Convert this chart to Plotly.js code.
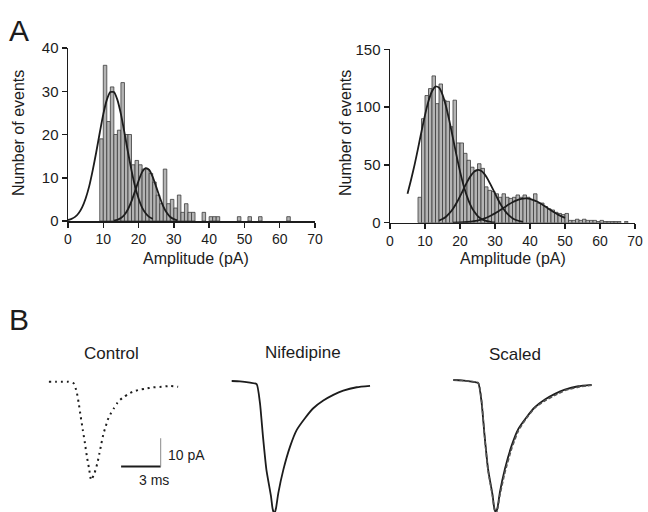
<!DOCTYPE html>
<html><head><meta charset="utf-8">
<script src="https://cdn.plot.ly/plotly-3.0.1.min.js"></script>
<style>html,body{margin:0;padding:0;background:#fff}#chart{width:648px;height:512px}</style>
</head><body><div id="chart"></div>
<script>
// ---------- Panel A: amplitude histograms (1 pA bins, value = bin start) ----------
const leftBinStart = [9,10,11,12,13,14,15,16,17,18,19,20,21,22,23,24,25,26,27,28,29,30,31,32,33,34,35,38,40,41,42,48,51,54,62];
const leftCounts   = [19,36,23,31,20,21,32,20,20,13,14,13,12,12,11,9,6,4,12,4,5,3,6,2,4,2,2,2,1,1,1,1,1,1,1];

const rightBinStart = [8,9,10,11,12,13,14,15,16,17,18,19,20,21,22,23,24,25,26,27,28,29,30,31,32,33,34,35,36,37,38,39,40,41,42,43,44,45,46,47,48,49,50,51,52,53,54,55,56,57,58,59,60,61,62,63,64,65,67];
const rightCounts   = [22,90,110,116,127,103,120,106,105,83,106,69,69,60,54,48,45,51,47,31,28,27,25,22,25,22,21,22,24,22,24,22,20,25,17,17,14,12,11,9,8,7,8,2,2,3,2,3,2,2,2,1,2,1,1,1,1,1,1];

// fitted curves
const leftFit1X = [0,1,2,3,4,5,6,7,8,9,10,11,12,13,14,15,16,17,18,19,20,21,22,23,24];
const leftFit1Y = [0.23,0.48,0.95,1.79,3.14,5.2,8.0,11.7,15.9,20.4,24.7,28.0,29.8,29.8,28.0,24.7,20.4,15.9,11.7,8.0,5.2,3.1,1.8,0.95,0.5];
const leftFit2X = [13,14,15,16,17,18,19,20,21,22,23,24,25,26,27,28,29,30,31];
const leftFit2Y = [0.11,0.29,0.68,1.44,2.72,4.58,6.9,9.3,11.3,12.2,11.8,10.2,7.9,5.5,3.4,1.9,0.93,0.42,0.16];

const rightFit1X = [5,6,7,8,9,10,11,12,13,14,15,16,17,18,19,20,21,22,23,24,25,26,27,28,29,30];
const rightFit1Y = [25,37.0,49.8,64.1,78.9,93.1,105.2,113.7,117.8,116.8,110.8,100.7,87.6,73.0,58.2,44.4,32.5,22.8,15.2,9.8,6.0,3.5,2.0,1.1,0.55,0.27];
const rightFit2X = [14,15,16,17,18,19,20,21,22,23,24,25,26,27,28,29,30,31,32,33,34,35,36,37,38];
const rightFit2Y = [1.8,3.2,5.2,8.2,12.1,17.0,22.8,29.0,35.1,40.3,44.0,45.6,44.9,42.0,37.3,31.4,25.3,19.2,13.9,9.6,6.3,3.9,2.3,1.3,0.7];
const rightFit3X = [18,20,22,24,26,27,28,29,30,31,32,33,34,35,36,37,38,39,40,41,42,43,44,45,46,47,48,49,50];
const rightFit3Y = [0.1,0.25,0.62,1.37,2.73,3.71,4.93,6.39,8.05,9.91,11.9,13.9,15.9,17.7,19.1,20.2,20.9,21.0,20.6,19.6,18.3,16.6,14.7,12.7,10.7,8.8,7.0,5.5,4.2];

const histXTicks = [0,10,20,30,40,50,60,70];
const leftYTicks = [0,10,20,30,40];
const rightYTicks = [0,50,100,150];

// ---------- Panel B: averaged currents (time in ms, current in pA) ----------
const controlT = [0,0.53,1.0,1.47,1.88,2.1,2.26,2.41,2.57,2.73,2.88,3.04,3.2,3.45,3.67,3.83,3.98,4.14,4.3,4.45,4.7,4.92,5.17,5.39,5.7,6.02,6.33,6.8,7.27,7.9,8.53,9.16,9.79];
const controlI = [0,0,0,0,-0.6,-3.5,-7.6,-12.3,-17.0,-21.7,-26.4,-30.5,-34.6,-32.3,-28.7,-25.2,-21.7,-18.2,-15.8,-13.5,-11.1,-9.4,-7.6,-6.4,-5.3,-4.3,-3.6,-2.9,-2.5,-2.0,-1.8,-1.5,-1.8];

const nifT = [0,0.63,1.39,1.89,2.14,2.37,2.63,2.98,3.1,3.23,3.36,3.53,3.91,4.42,4.92,5.55,6.18,6.94,7.7,8.45,9.47,10.48];
const nifI = [0,-0.1,-0.6,-1.1,-7.7,-19.6,-31.3,-40.7,-45.0,-46.8,-44.7,-39.5,-31.3,-23.1,-17.3,-13.1,-9.6,-6.9,-4.9,-3.4,-2.2,-1.7];

const scaledCtrlT = [0,0.63,1.39,1.89,2.14,2.37,2.63,2.98,3.1,3.23,3.36,3.53,3.91,4.42,4.92,5.55,6.18,6.94,7.7,8.45,9.47,10.48];
const scaledCtrlI = [0,-0.2,-0.5,-1.0,-7.2,-19.8,-31.8,-41.2,-45.4,-47.0,-45.3,-40.6,-32.6,-24.2,-18.0,-13.4,-9.8,-7.3,-5.4,-3.7,-2.5,-1.8];

const scaleBarMs = 3, scaleBarPA = 10;

// ---------- layout helpers ----------
const W = 648, H = 512;
const fx = p => p / W, fy = p => 1 - p / H;
const FONT = 'Liberation Sans, Arial, Helvetica, sans-serif';
const INK = '#1c1c1c';

function histX(p0, p1, anchor) {
  return {domain: [fx(p0), fx(p1)], range: [0, 70], anchor: anchor, tickvals: histXTicks,
    ticks: 'outside', ticklen: 5, tickwidth: 1.5, tickcolor: INK, showline: true, linecolor: INK, linewidth: 1.5,
    showgrid: false, zeroline: false, tickfont: {family: FONT, size: 14, color: INK}, fixedrange: true};
}
function histY(p0, p1, max, ticks, anchor) {
  return {domain: [fy(p0), fy(p1)], range: [0, max], anchor: anchor, tickvals: ticks,
    ticks: 'outside', ticklen: 5, tickwidth: 1.5, tickcolor: INK, showline: true, linecolor: INK, linewidth: 1.5,
    showgrid: false, zeroline: false, tickfont: {family: FONT, size: 15, color: INK}, fixedrange: true};
}
// trace panels: pixel scale
const pxPerMs = 13.2, pxPerPA = 2.84;
const bTop = 360, bBot = 512;
function traceX(p0, p1, originPx) {
  return {domain: [fx(p0), fx(p1)], range: [(p0 - originPx) / pxPerMs, (p1 - originPx) / pxPerMs], visible: false, fixedrange: true};
}
function traceY(basePx, anchor) {
  return {domain: [fy(bBot), fy(bTop)], range: [-(bBot - basePx) / pxPerPA, (basePx - bTop) / pxPerPA], visible: false, anchor: anchor, fixedrange: true};
}

const barStyle = {color: '#b4b4b4', line: {color: '#3c3c3c', width: 0.8}};
const fitLine = {color: INK, width: 1.8, shape: 'spline', smoothing: 0.6};

const sbT0 = 5.47, sbI0 = -29.9;

const data = [
  {type: 'bar', x: leftBinStart, y: leftCounts, width: 1, offset: 0, marker: barStyle, xaxis: 'x', yaxis: 'y'},
  {type: 'scatter', mode: 'lines', x: leftFit1X, y: leftFit1Y, line: fitLine, xaxis: 'x', yaxis: 'y'},
  {type: 'scatter', mode: 'lines', x: leftFit2X, y: leftFit2Y, line: fitLine, xaxis: 'x', yaxis: 'y'},
  {type: 'bar', x: rightBinStart, y: rightCounts, width: 1, offset: 0, marker: barStyle, xaxis: 'x2', yaxis: 'y2'},
  {type: 'scatter', mode: 'lines', x: rightFit1X, y: rightFit1Y, line: fitLine, xaxis: 'x2', yaxis: 'y2'},
  {type: 'scatter', mode: 'lines', x: rightFit2X, y: rightFit2Y, line: fitLine, xaxis: 'x2', yaxis: 'y2'},
  {type: 'scatter', mode: 'lines', x: rightFit3X, y: rightFit3Y, line: fitLine, xaxis: 'x2', yaxis: 'y2'},
  // Control (dotted)
  {type: 'scatter', mode: 'lines', x: controlT, y: controlI, line: {color: INK, width: 2, dash: '2px,4px', shape: 'spline', smoothing: 0.5}, xaxis: 'x3', yaxis: 'y3'},
  // scale bar
  {type: 'scatter', mode: 'lines', x: [sbT0, sbT0 + scaleBarMs], y: [sbI0, sbI0], line: {color: INK, width: 2}, xaxis: 'x3', yaxis: 'y3'},
  {type: 'scatter', mode: 'lines', x: [sbT0 + scaleBarMs, sbT0 + scaleBarMs], y: [sbI0, sbI0 + scaleBarPA], line: {color: '#8a8a8a', width: 1}, xaxis: 'x3', yaxis: 'y3'},
  // Nifedipine
  {type: 'scatter', mode: 'lines', x: nifT, y: nifI, line: {color: INK, width: 1.8, shape: 'spline', smoothing: 0.5}, xaxis: 'x4', yaxis: 'y4'},
  // Scaled
  {type: 'scatter', mode: 'lines', x: nifT, y: nifI, line: {color: INK, width: 1.8, shape: 'spline', smoothing: 0.5}, xaxis: 'x5', yaxis: 'y5'},
  {type: 'scatter', mode: 'lines', x: scaledCtrlT, y: scaledCtrlI, line: {color: '#555', width: 1.6, dash: '4px,2px', shape: 'spline', smoothing: 0.5}, xaxis: 'x5', yaxis: 'y5'}
];

function txt(text, px, py, size, xanchor, angle) {
  return {text: text, x: fx(px), y: fy(py), xref: 'paper', yref: 'paper', showarrow: false,
    xanchor: xanchor || 'center', yanchor: 'middle', textangle: angle || 0,
    font: {family: FONT, size: size, color: INK}};
}

const layout = {
  width: W, height: H, margin: {l: 0, r: 0, t: 0, b: 0},
  paper_bgcolor: '#fff', plot_bgcolor: 'rgba(0,0,0,0)', showlegend: false, bargap: 0,
  xaxis: histX(68, 315, 'y'), yaxis: histY(221, 48, 40, leftYTicks, 'x'),
  xaxis2: histX(390, 635, 'y2'), yaxis2: histY(222.7, 49.3, 150, rightYTicks, 'x2'),
  xaxis3: traceX(30, 215, 48.9), yaxis3: traceY(381.7, 'x3'),
  xaxis4: traceX(220, 440, 231.7), yaxis4: traceY(381, 'x4'),
  xaxis5: traceX(445, 640, 453.3), yaxis5: traceY(380, 'x5'),
  annotations: [
    txt('A', 7, 30, 30, 'left'),
    txt('B', 7, 319, 30, 'left'),
    txt('Number of events', 18, 133, 16, 'center', -90),
    txt('Number of events', 345, 133, 16, 'center', -90),
    txt('Amplitude (pA)', 196, 258, 16),
    txt('Amplitude (pA)', 513, 258, 16),
    txt('Control', 111, 353, 17),
    txt('Nifedipine', 303, 352, 17),
    txt('Scaled', 515, 354, 17),
    txt('10 pA', 166, 455, 14, 'left'),
    txt('3 ms', 154, 480, 14)
  ]
};

Plotly.newPlot('chart', data, layout, {staticPlot: true, displayModeBar: false});
</script>
</body></html>
